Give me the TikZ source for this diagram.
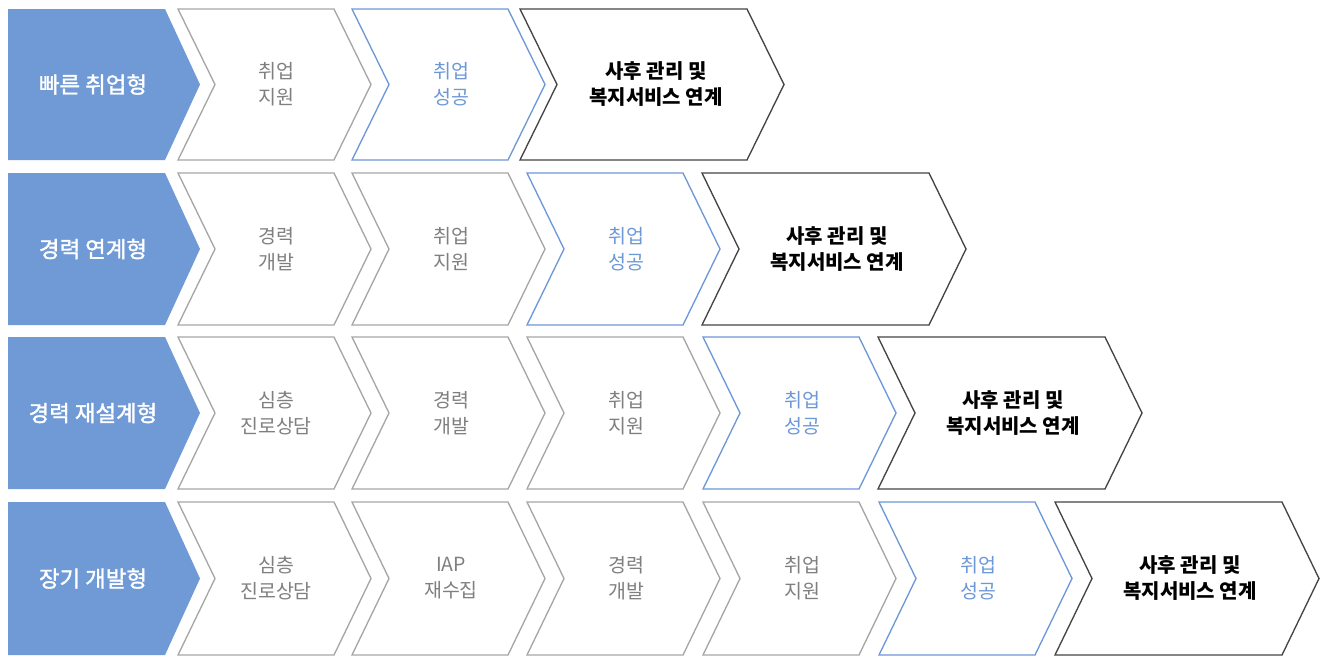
\documentclass[tikz,border=0pt]{standalone}
\usepackage{fontspec}
\setmainfont{Noto Sans CJK KR}
\newfontfamily\labelfont[FakeBold=1.6]{Noto Sans CJK KR}
\usepackage{tikz}
\usetikzlibrary{positioning}
\definecolor{labelblue}{HTML}{6F9AD6}
\definecolor{stepgray}{HTML}{A6A6A6}
\definecolor{stepgraytext}{HTML}{7F7F7F}
\definecolor{stepblue}{HTML}{6D98D8}
\definecolor{stepdark}{HTML}{444444}

\tikzset{
  typelabel/.style={fill=labelblue, draw=none},
  typetext/.style={text=white, font=\labelfont\fontsize{16.8}{20}\selectfont, align=center},
  graystep/.style={draw=stepgray, line width=1pt, fill=white},
  graytext/.style={text=stepgraytext, font=\fontsize{14.6}{19.5}\selectfont, align=center},
  bluestep/.style={draw=stepblue, line width=1pt, fill=white},
  bluetext/.style={text=stepblue, font=\fontsize{14.6}{19.5}\selectfont, align=center},
  darkstep/.style={draw=stepdark, line width=1pt, fill=white},
  darktext/.style={text=black, font=\fontsize{15}{19.5}\selectfont\bfseries, align=center}
}

\begin{document}
\begin{tikzpicture}[x=0.75pt,y=0.75pt,yscale=-1,xscale=1]
    \useasboundingbox (0,0) rectangle (1331,664);

    % Row 1 : 빠른 취업형
    \fill [typelabel] (8,9) -- (165,9) -- (200,84.5) -- (165,160) -- (8,160) -- cycle ;
    \node [typetext] (fastlabel) at (93,84.5) {빠른 취업형};
    \draw [graystep] (178,9) -- (334,9) -- (371,84.5) -- (334,160) -- (178,160) -- (215,84.5) -- cycle ;
    \node [graytext] (fastsupport) at (276,84.5) {취업\\지원};
    \draw [bluestep] (352,9) -- (508,9) -- (545,84.5) -- (508,160) -- (352,160) -- (389,84.5) -- cycle ;
    \node [bluetext] (fastsuccess) at (451,84.5) {취업\\성공};
    \draw [darkstep] (520,9) -- (747,9) -- (784,84.5) -- (747,160) -- (520,160) -- (557,84.5) -- cycle ;
    \node [darktext] (fastafter) at (656,84.5) {사후 관리 및\\복지서비스 연계};

    % Row 2 : 경력 연계형
    \fill [typelabel] (8,173) -- (165,173) -- (200,249) -- (165,325) -- (8,325) -- cycle ;
    \node [typetext] (linklabel) at (93,249) {경력 연계형};
    \draw [graystep] (178,173) -- (334,173) -- (371,249) -- (334,325) -- (178,325) -- (215,249) -- cycle ;
    \node [graytext] (linkcareer) at (276,249) {경력\\개발};
    \draw [graystep] (352,173) -- (508,173) -- (545,249) -- (508,325) -- (352,325) -- (389,249) -- cycle ;
    \node [graytext] (linksupport) at (451,249) {취업\\지원};
    \draw [bluestep] (527,173) -- (683,173) -- (720,249) -- (683,325) -- (527,325) -- (564,249) -- cycle ;
    \node [bluetext] (linksuccess) at (626,249) {취업\\성공};
    \draw [darkstep] (702,173) -- (929,173) -- (966,249) -- (929,325) -- (702,325) -- (739,249) -- cycle ;
    \node [darktext] (linkafter) at (837,249) {사후 관리 및\\복지서비스 연계};

    % Row 3 : 경력 재설계형
    \fill [typelabel] (8,337) -- (165,337) -- (200,413) -- (165,489) -- (8,489) -- cycle ;
    \node [typetext] (redesignlabel) at (93,413) {경력 재설계형};
    \draw [graystep] (178,337) -- (334,337) -- (371,413) -- (334,489) -- (178,489) -- (215,413) -- cycle ;
    \node [graytext] (redesigncounsel) at (276,413) {심층\\진로상담};
    \draw [graystep] (352,337) -- (508,337) -- (545,413) -- (508,489) -- (352,489) -- (389,413) -- cycle ;
    \node [graytext] (redesigncareer) at (451,413) {경력\\개발};
    \draw [graystep] (527,337) -- (683,337) -- (720,413) -- (683,489) -- (527,489) -- (564,413) -- cycle ;
    \node [graytext] (redesignsupport) at (626,413) {취업\\지원};
    \draw [bluestep] (703,337) -- (859,337) -- (896,413) -- (859,489) -- (703,489) -- (740,413) -- cycle ;
    \node [bluetext] (redesignsuccess) at (802,413) {취업\\성공};
    \draw [darkstep] (878,337) -- (1105,337) -- (1142,413) -- (1105,489) -- (878,489) -- (915,413) -- cycle ;
    \node [darktext] (redesignafter) at (1013,413) {사후 관리 및\\복지서비스 연계};

    % Row 4 : 장기 개발형
    \fill [typelabel] (8,502) -- (165,502) -- (200,578.5) -- (165,655) -- (8,655) -- cycle ;
    \node [typetext] (longlabel) at (93,578.5) {장기 개발형};
    \draw [graystep] (178,502) -- (334,502) -- (371,578.5) -- (334,655) -- (178,655) -- (215,578.5) -- cycle ;
    \node [graytext] (longcounsel) at (276,578.5) {심층\\진로상담};
    \draw [graystep] (352,502) -- (508,502) -- (545,578.5) -- (508,655) -- (352,655) -- (389,578.5) -- cycle ;
    \node [graytext] (longiap) at (451,578.5) {IAP\\재수집};
    \draw [graystep] (527,502) -- (683,502) -- (720,578.5) -- (683,655) -- (527,655) -- (564,578.5) -- cycle ;
    \node [graytext] (longcareer) at (626,578.5) {경력\\개발};
    \draw [graystep] (703,502) -- (859,502) -- (896,578.5) -- (859,655) -- (703,655) -- (740,578.5) -- cycle ;
    \node [graytext] (longsupport) at (802,578.5) {취업\\지원};
    \draw [bluestep] (879,502) -- (1035,502) -- (1072,578.5) -- (1035,655) -- (879,655) -- (916,578.5) -- cycle ;
    \node [bluetext] (longsuccess) at (978,578.5) {취업\\성공};
    \draw [darkstep] (1055,502) -- (1282,502) -- (1319,578.5) -- (1282,655) -- (1055,655) -- (1092,578.5) -- cycle ;
    \node [darktext] (longafter) at (1190,578.5) {사후 관리 및\\복지서비스 연계};

\end{tikzpicture}
\end{document}
